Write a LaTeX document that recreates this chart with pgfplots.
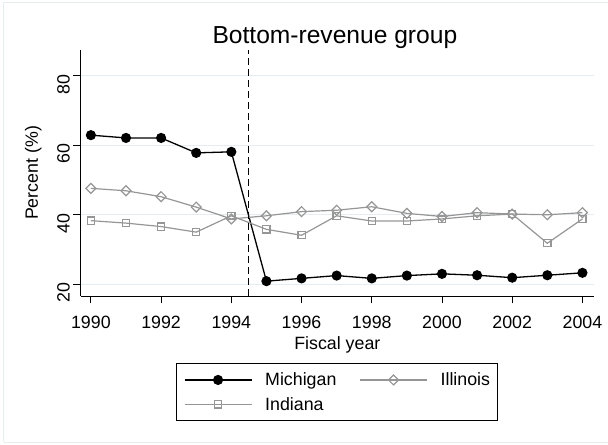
\documentclass[border=0pt]{standalone}
\usepackage{fontspec}
\setmainfont{Liberation Sans}
\usepackage{pgfplots}
\pgfplotsset{compat=1.18}

\definecolor{gridc}{RGB}{228,237,240}
\definecolor{framec}{RGB}{230,238,240}
\definecolor{grayline}{RGB}{150,150,150}

\newcommand{\tickfont}{\fontsize{17.8bp}{21bp}\selectfont}
\newcommand{\titlefont}{\fontsize{24.6bp}{29bp}\selectfont}

\begin{document}
\begin{tikzpicture}[x=1bp,y=1bp]
  % page size and outer frame
  \path[use as bounding box] (0,0) rectangle (608,445);
  \draw[framec, line width=1bp] (3.5,2.5) -- (3.5,442.5) -- (612,442.5);
  \draw[framec, line width=1bp] (3.5,2.5) -- (612,2.5);

  \begin{axis}[
    at={(80.7bp,149bp)}, anchor=south west,
    scale only axis, width=513.3bp, height=246bp,
    xmin=1989.71, xmax=2004.33,
    ymin=16.63, ymax=87.4,
    axis x line*=bottom, axis y line*=left,
    axis line style={line width=0.9bp, -},
    tick align=outside,
    major tick length=7.5bp,
    tick style={line width=0.9bp, black},
    xtick={1990,1992,...,2004},
    ytick={20,40,60,80},
    minor tick num=0,
    /pgf/number format/assume math mode=true,
    /pgf/number format/1000 sep={},
    ticklabel style={font=\tickfont},
    xticklabel style={anchor=north, yshift=-9bp},
    yticklabel style={rotate=90, anchor=south, xshift=-8.5bp},
    ymajorgrids,
    grid style={gridc, line width=1bp},
    title={Bottom-revenue group},
    title style={font=\titlefont, at={(axis description cs:0.4952,1)}, anchor=base, yshift=0.5bp},
    xlabel={Fiscal year},
    xlabel style={font=\tickfont, at={(axis description cs:0.5,-0.2155)}, anchor=base},
    ylabel={Percent (\%)},
    ylabel style={font=\tickfont, at={(axis description cs:-0.0832,0.5)}, anchor=base, rotate=0},
    legend columns=2,
    legend cell align=left,
    legend style={
      at={(axis description cs:0.4993,-0.2736)}, anchor=north,
      draw=black, line width=0.9bp,
      font=\tickfont,
      inner xsep=7bp, inner ysep=9bp,
      row sep=10bp,
      nodes={inner sep=0bp},
      /tikz/every odd column/.append style={column sep=13bp},
      /tikz/every even column/.append style={column sep=23bp},
    },
    legend image code/.code={
      \draw[mark repeat=2, mark phase=2, #1]
        plot coordinates {(0bp,0bp) (33.5bp,0bp) (67bp,0bp)};
    },
  ]
    % Michigan
    \addplot[black, line width=1.3bp, mark=*, mark size=4.4bp,
      mark options={solid, fill=black}]
      coordinates {
        (1990,62.9) (1991,62.1) (1992,62.1) (1993,57.8) (1994,58.1)
        (1995,20.9) (1996,21.7) (1997,22.5) (1998,21.7) (1999,22.5)
        (2000,23.0) (2001,22.6) (2002,21.9) (2003,22.6) (2004,23.3)
      };
    \addlegendentry{Michigan}

    % Illinois
    \addplot[grayline, line width=1.2bp, mark=square, mark size=3.5bp,
      mark options={solid, rotate=45, fill=white, line width=1.2bp}]
      coordinates {
        (1990,47.6) (1991,46.9) (1992,45.2) (1993,42.2) (1994,38.8)
        (1995,39.7) (1996,40.9) (1997,41.3) (1998,42.3) (1999,40.4)
        (2000,39.5) (2001,40.6) (2002,40.2) (2003,40.0) (2004,40.6)
      };
    \addlegendentry{Illinois}

    % Indiana
    \addplot[grayline, line width=1.2bp, mark=square, mark size=3.6bp,
      mark options={solid, line width=1.2bp}]
      coordinates {
        (1990,38.3) (1991,37.6) (1992,36.6) (1993,35.0) (1994,39.7)
        (1995,35.8) (1996,34.1) (1997,39.7) (1998,38.2) (1999,38.2)
        (2000,38.8) (2001,39.7) (2002,40.2) (2003,31.8) (2004,38.8)
      };
    \addlegendentry{Indiana}

    % policy break between fiscal 1994 and 1995
    \addplot[black, line width=1.1bp, dash pattern=on 7bp off 4bp, forget plot]
      coordinates {(1994.5,16.63) (1994.5,87.4)};
  \end{axis}
\end{tikzpicture}
\end{document}
